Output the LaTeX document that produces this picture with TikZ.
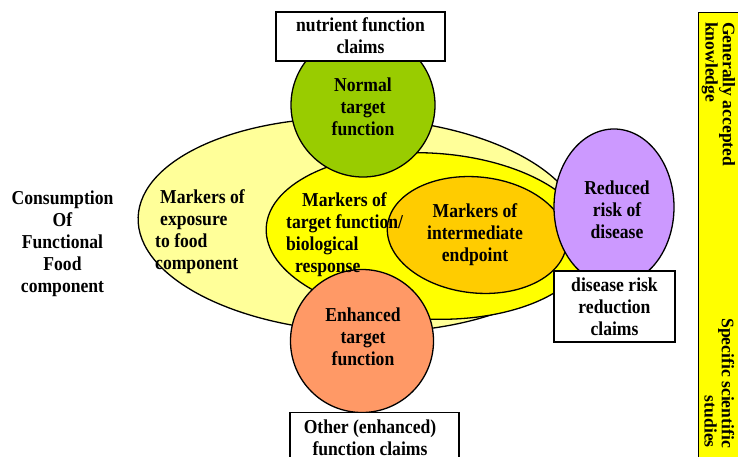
\documentclass[tikz,border=0pt]{standalone}
\usepackage{fontspec}
\setmainfont{Liberation Serif}
\usepackage{graphicx}
\usetikzlibrary{shapes.geometric}
\definecolor{lightyel}{HTML}{FFFF99}
\definecolor{midyel}{HTML}{FFFF00}
\definecolor{orng}{HTML}{FFCC00}
\definecolor{grn}{HTML}{99CC00}
\definecolor{purp}{HTML}{CC99FF}
\definecolor{salmonc}{HTML}{FF9966}
\newcommand{\mytb}[2][c]{\scalebox{1}[1.12]{\begin{tabular}{@{}#1@{}}#2\end{tabular}}}
\newcommand{\mytbr}[2][l]{\begin{tabular}{@{}#1@{}}#2\end{tabular}}
\begin{document}
\begin{tikzpicture}[x=1pt,y=-1pt,
  shp/.style={draw=black, line width=1.3pt, inner sep=0pt},
  box/.style={draw=black, line width=1.3pt, fill=white, rectangle, inner sep=0pt},
  txt/.style={inner sep=0pt, font=\fontsize{17.6}{19.6}\selectfont\bfseries},
  rtxt/.style={inner sep=0pt, rotate=-90, font=\fontsize{17.6}{17}\selectfont\bfseries}]
\clip (0,0) rectangle (738,457);
\fill[white] (0,0) rectangle (738,457);
% shapes
\node[ellipse, shp, fill=lightyel, minimum width=444pt, minimum height=214pt, rotate=-2] (bigell) at (360,225) {};
\node[ellipse, shp, fill=midyel, minimum width=324pt, minimum height=166pt, rotate=-3] (midell) at (428,236) {};
\node[ellipse, shp, fill=orng, minimum width=180pt, minimum height=116pt, rotate=-6] (orell) at (477,235) {};
\node[circle, shp, fill=grn, minimum size=144pt] (normal) at (363,105) {};
\node[circle, shp, fill=salmonc, minimum size=143pt] (enh) at (362,341) {};
\node[ellipse, shp, fill=purp, minimum width=120pt, minimum height=156pt] (reduced) at (614,207) {};
\node[box, minimum width=169pt, minimum height=49pt] (nutbox) at (360.5,36.5) {};
\node[box, minimum width=121pt, minimum height=71pt] (disbox) at (614.5,306.5) {};
\node[box, minimum width=169pt, minimum height=60pt, anchor=north] (othbox) at (374.5,412) {};
\node[rectangle, draw=black, line width=1.3pt, fill=midyel, anchor=north west, minimum width=50pt, minimum height=460pt] (bar) at (698,12) {};
% texts
\node[txt] (nuttxt) at (360.5,38.5) {\mytb{nutrient function\\claims}};
\node[txt] (normtxt) at (363,108.7) {\mytb{Normal\\target\\function}};
\node[txt, anchor=west] (exptxt) at (155,232) {\mytb[l]{\hspace{5pt}Markers of\\\hspace{5pt}exposure\\to food\\component}};
\node[txt, anchor=west] (tftxt) at (286,235.5) {\mytb[l]{\hspace{16pt}Markers of\\target function/\\biological\\\hspace{9pt}response}};
\node[txt] (inttxt) at (475,235.3) {\mytb{Markers of\\intermediate\\endpoint}};
\node[txt] (redtxt) at (617,212) {\mytb{Reduced\\risk of\\disease}};
\node[txt] (distxt) at (614.5,308.7) {\mytb{disease risk\\reduction\\claims}};
\node[txt] (enhtxt) at (363,338.7) {\mytb{Enhanced\\target\\function}};
\node[txt] (othtxt) at (370,440.5) {\mytb{Other (enhanced)\\function claims}};
\node[txt] (constxt) at (62.5,244) {\mytb{Consumption\\Of\\Functional\\Food\\component}};
\node[rtxt, anchor=north west] (gentxt) at (735.4,22) {\mytbr[l]{Generally accepted\\knowledge}};
\node[rtxt, anchor=north east] (spectxt) at (734.4,448) {\mytbr[r]{Specific scientific\\studies}};
\end{tikzpicture}
\end{document}
